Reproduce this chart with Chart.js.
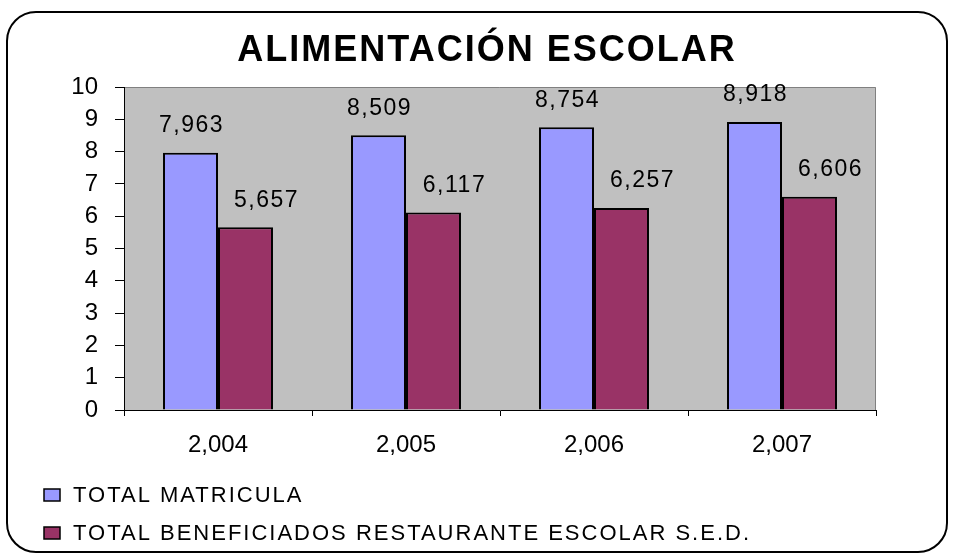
<!DOCTYPE html>
<html>
<head>
<meta charset="utf-8">
<script src="https://cdn.jsdelivr.net/npm/chart.js@4/dist/chart.umd.min.js"></script>
<style>
  html, body { margin: 0; padding: 0; background: #fff; }
  #wrap { position: relative; width: 954px; height: 554px; }
  #frame {
    position: absolute; left: 6px; top: 11px; width: 938px; height: 538px;
    border: 2px solid #000; border-radius: 30px;
  }
  #chart { position: absolute; left: 0; top: 0; }
</style>
</head>
<body>
<div id="wrap">
  <div id="frame"></div>
  <canvas id="chart" width="954" height="554"></canvas>
</div>
<script>
"use strict";

const chartTitle = 'ALIMENTACIÓN ESCOLAR';
const years = ['2,004', '2,005', '2,006', '2,007'];
const totalMatricula = [7.963, 8.509, 8.754, 8.918];
const totalBeneficiados = [5.657, 6.117, 6.257, 6.606];
const yTicks = [0, 1, 2, 3, 4, 5, 6, 7, 8, 9, 10];

const FONT = "'Liberation Sans', Arial, sans-serif";

// grey plot area like the old spreadsheet chart
const plotBackground = {
  id: 'plotBackground',
  beforeDraw(chart) {
    const { ctx, chartArea: a } = chart;
    ctx.save();
    ctx.fillStyle = '#c0c0c0';
    ctx.fillRect(a.left, a.top, a.right - a.left, a.bottom - a.top);
    ctx.strokeStyle = '#808080';
    ctx.lineWidth = 1;
    ctx.beginPath();
    ctx.moveTo(a.left, a.top + 0.5);
    ctx.lineTo(a.right - 0.5, a.top + 0.5);
    ctx.lineTo(a.right - 0.5, a.bottom);
    ctx.stroke();
    ctx.restore();
  }
};

// title drawn by hand so it sits centred on the frame, not the plot
const frameTitle = {
  id: 'frameTitle',
  afterDraw(chart) {
    const ctx = chart.ctx;
    ctx.save();
    ctx.font = 'bold 36px ' + FONT;
    ctx.letterSpacing = '2px';
    ctx.fillStyle = '#000';
    ctx.textAlign = 'center';
    ctx.textBaseline = 'middle';
    ctx.fillText(chartTitle, 487, 51);
    ctx.restore();
  }
};

const valueLabels = {
  id: 'valueLabels',
  afterDatasetsDraw(chart) {
    const ctx = chart.ctx;
    ctx.save();
    ctx.font = '23px ' + FONT;
    ctx.letterSpacing = '1.5px';
    ctx.fillStyle = '#000';
    ctx.textAlign = 'center';
    ctx.textBaseline = 'middle';
    chart.data.datasets.forEach((ds, i) => {
      const shift = i === 0 ? 1 : 21;
      chart.getDatasetMeta(i).data.forEach((bar, j) => {
        const txt = ds.data[j].toFixed(3).replace('.', ',');
        ctx.fillText(txt, bar.x + shift, bar.y - 27);
      });
    });
    ctx.restore();
  }
};

const stackedLegend = {
  id: 'stackedLegend',
  afterDraw(chart) {
    const ctx = chart.ctx;
    ctx.save();
    ctx.font = '22px ' + FONT;
    ctx.letterSpacing = '2px';
    ctx.textBaseline = 'middle';
    chart.data.datasets.forEach((ds, i) => {
      const y = 495 + i * 38;
      ctx.fillStyle = ds.backgroundColor;
      ctx.fillRect(44, y - 6, 16, 12);
      ctx.strokeStyle = '#000';
      ctx.lineWidth = 1.5;
      ctx.strokeRect(44, y - 6, 16, 12);
      ctx.fillStyle = '#000';
      ctx.fillText(ds.label, 73, y + 1);
    });
    ctx.restore();
  }
};

new Chart(document.getElementById('chart'), {
  type: 'bar',
  data: {
    labels: years,
    datasets: [
      {
        label: 'TOTAL MATRICULA',
        data: totalMatricula,
        backgroundColor: '#9999ff',
        borderColor: '#000',
        borderWidth: 2,
      },
      {
        label: 'TOTAL BENEFICIADOS RESTAURANTE ESCOLAR S.E.D.',
        data: totalBeneficiados,
        backgroundColor: '#993366',
        borderColor: '#000',
        borderWidth: 2,
      },
    ],
  },
  options: {
    responsive: false,
    animation: false,
    layout: { padding: { left: 20, right: 78, top: 87, bottom: 94 } },
    datasets: { bar: { categoryPercentage: 0.585, barPercentage: 1 } },
    plugins: {
      legend: { display: false },
      tooltip: { enabled: false },
      title: { display: false },
    },
    scales: {
      x: {
        afterFit(scale) { scale.height = 50; },
        grid: { offset: true, drawOnChartArea: false, color: '#000', tickLength: 6 },
        border: { color: '#000', width: 1 },
        ticks: { color: '#000', padding: 15, font: { family: FONT, size: 24 } },
      },
      y: {
        min: 0,
        max: 10,
        afterFit(scale) { scale.width = 104; },
        afterBuildTicks(scale) { scale.ticks = yTicks.map(v => ({ value: v })); },
        grid: { drawOnChartArea: false, color: '#000', tickLength: 9 },
        border: { color: '#000', width: 1 },
        ticks: { color: '#000', padding: 17, font: { family: FONT, size: 24 } },
      },
    },
  },
  plugins: [plotBackground, valueLabels, frameTitle, stackedLegend],
});
</script>
</body>
</html>
